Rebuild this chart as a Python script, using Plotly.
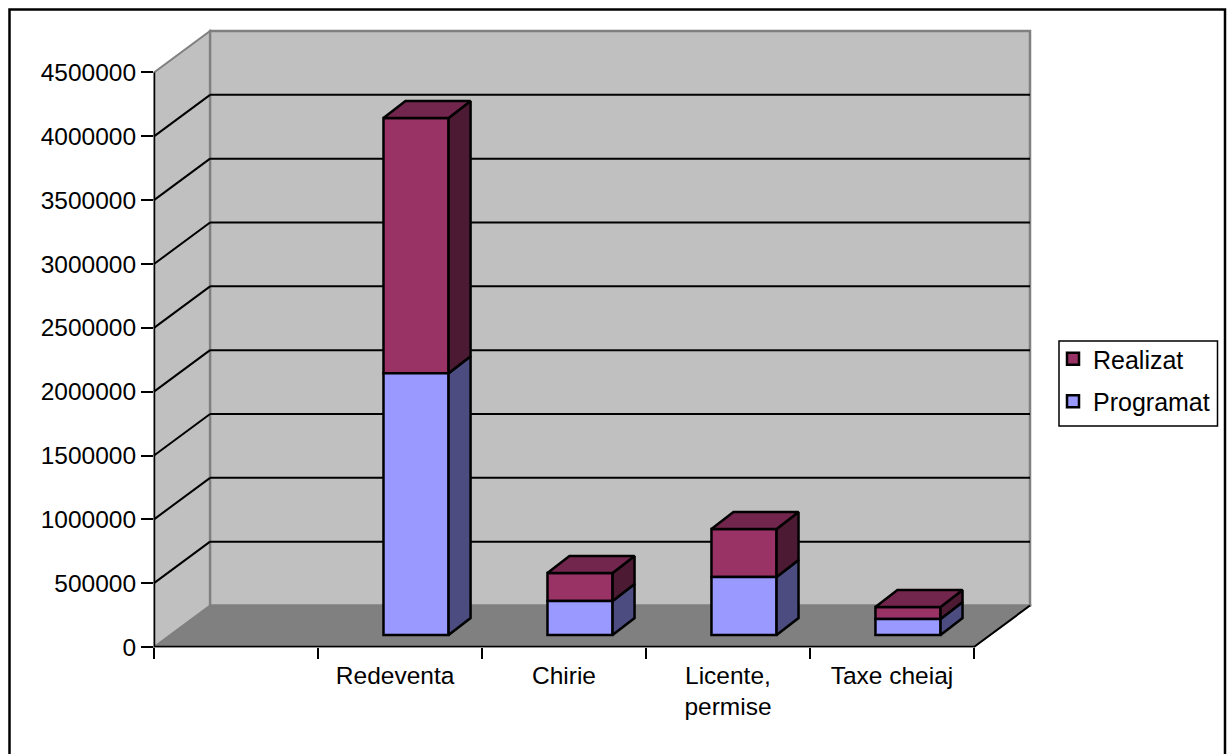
import plotly.graph_objects as go

categories = ["", "Redeventa", "Chirie", "Licente,<br>permise", "Taxe cheiaj"]
label_pos = [0, 0.97, 2, 3, 4]
programat = [None, 2050000, 266000, 454000, 125000]
realizat = [None, 2000000, 219000, 376000, 94000]
y_ticks = [0, 500000, 1000000, 1500000, 2000000, 2500000, 3000000, 3500000, 4000000, 4500000]

# 3-D look: offsets expressed in axis units
X0, X1 = -0.5, 4.5
WALL_DX, WALL_DY = 0.342, 325000
SHIFT_X, SHIFT_Y = 0.098, 94000
BAR_W = 0.397
BAR_DX, BAR_DY = 0.134, 133000
XMAX, YMAX = X1 + WALL_DX, 4500000 + WALL_DY

FONT = "Liberation Sans, Arial, sans-serif"
FS = 24.5
WALL = "#C0C0C0"
FLOOR = "#808080"
EDGE = "#808080"
OUT = 2.5

fig = go.Figure()


def fx(x):
    return (x - X0) / (XMAX - X0)


def fy(y):
    return y / YMAX


def paper_poly(points, fill, color, width):
    d = "M" + " L".join(f"{fx(x)},{fy(y)}" for x, y in points) + " Z"
    return dict(type="path", layer="below", xref="paper", yref="paper", path=d,
                fillcolor=fill, line=dict(color=color, width=width))


def paper_line(x0, y0, x1, y1, color, width):
    # paper-referenced lines are not clipped at the plot-area edge
    return dict(type="line", layer="below", xref="paper", yref="paper",
                x0=fx(x0), y0=fy(y0), x1=fx(x1), y1=fy(y1),
                line=dict(color=color, width=width))


shapes = []
# floor, side wall, back wall
shapes.append(paper_poly([(X0, 0), (X0 + WALL_DX, WALL_DY), (XMAX, WALL_DY), (X1, 0)],
                         FLOOR, "#6E6E6E", 1.5))
shapes.append(paper_poly([(X0, 0), (X0, 4500000), (X0 + WALL_DX, YMAX), (X0 + WALL_DX, WALL_DY)],
                         WALL, EDGE, 2))
shapes.append(paper_poly([(X0 + WALL_DX, WALL_DY), (X0 + WALL_DX, YMAX), (XMAX, YMAX), (XMAX, WALL_DY)],
                         WALL, EDGE, 2.5))
# grid lines on the walls
for v in y_ticks[1:-1]:
    shapes.append(paper_line(X0, v, X0 + WALL_DX, v + WALL_DY, "black", 2))
    shapes.append(paper_line(X0 + WALL_DX, v + WALL_DY, XMAX, v + WALL_DY, "black", 2))
shapes.append(paper_line(X1, 0, XMAX, WALL_DY, "black", 2))
# outer frame (its lower edge falls outside the picture) and legend box
W, H = 876.0, 616.0
def px(x):
    return (x - 154) / W
def py(y):
    return (647 - y) / H
shapes.append(dict(type="rect", layer="below", xref="paper", yref="paper",
                   x0=px(9.5), x1=px(1225), y0=py(9.5), y1=py(770),
                   line=dict(color="black", width=2.5), fillcolor="rgba(0,0,0,0)"))
shapes.append(dict(type="rect", layer="below", xref="paper", yref="paper",
                   x0=px(1059), x1=px(1217.5), y0=py(341), y1=py(426),
                   line=dict(color="black", width=1.5), fillcolor="white"))

xs = [i + SHIFT_X for i in range(len(categories))]
lows = [None if p is None else SHIFT_Y for p in programat]
mids = [None if p is None else SHIFT_Y + p for p in programat]
tops = [None if p is None else SHIFT_Y + p + r for p, r in zip(programat, realizat)]

# front faces (real stacked bars)
fig.add_trace(go.Bar(name="Realizat", x=xs, y=realizat, base=mids, width=BAR_W,
                     marker=dict(color="#993366", line=dict(color="black", width=OUT)),
                     legendgroup="r"))
fig.add_trace(go.Bar(name="Programat", x=xs, y=programat, base=lows, width=BAR_W,
                     marker=dict(color="#9999FF", line=dict(color="black", width=OUT)),
                     legendgroup="p"))


def poly_trace(polys, color):
    px_, py_ = [], []
    for poly in polys:
        for a, b in poly + [poly[0]]:
            px_.append(a)
            py_.append(b)
        px_.append(None)
        py_.append(None)
    fig.add_trace(go.Scatter(x=px_, y=py_, mode="lines", fill="toself", fillcolor=color,
                             line=dict(color="black", width=OUT), showlegend=False,
                             hoverinfo="skip"))


def side(x, lo, hi):
    r = x + BAR_W / 2
    return [(r, lo), (r + BAR_DX, lo + BAR_DY), (r + BAR_DX, hi + BAR_DY), (r, hi)]


def top(x, hi):
    l, r = x - BAR_W / 2, x + BAR_W / 2
    return [(l, hi), (l + BAR_DX, hi + BAR_DY), (r + BAR_DX, hi + BAR_DY), (r, hi)]


idx = [i for i, p in enumerate(programat) if p is not None]
poly_trace([side(xs[i], lows[i], mids[i]) for i in idx], "#4C4C80")
poly_trace([side(xs[i], mids[i], tops[i]) for i in idx], "#4C1A33")
poly_trace([top(xs[i], tops[i]) for i in idx], "#73264D")

# axis lines: unclipped so that they sit fully on the plot-area edge
fig.add_trace(go.Scatter(x=[X0, X0, X1], y=[y_ticks[-1], 0, 0], mode="lines", cliponaxis=False,
                         line=dict(color="black", width=2.5), showlegend=False, hoverinfo="skip"))

fig.update_layout(
    width=1227, height=754,
    margin=dict(l=154, r=197, t=31, b=107, autoexpand=False),
    paper_bgcolor="white", plot_bgcolor="rgba(0,0,0,0)",
    barmode="overlay",
    font=dict(family=FONT, size=FS, color="black"),
    shapes=shapes,
    showlegend=True,
    legend=dict(x=px(1053), y=py(336), xanchor="left", yanchor="top",
                bgcolor="rgba(0,0,0,0)", borderwidth=0,
                traceorder="grouped", tracegroupgap=7,
                font=dict(family=FONT, size=25)),
    xaxis=dict(range=[X0, XMAX], tickmode="array", tickvals=label_pos,
               ticktext=categories, ticks="", showgrid=False, zeroline=False, showline=False,
               ticklabelstandoff=11, tickfont=dict(family=FONT, size=FS),
               minor=dict(tickmode="array", tickvals=[X0 + i for i in range(len(categories) + 1)],
                          ticks="outside", ticklen=11, tickwidth=1.5, tickcolor="black",
                          showgrid=False)),
    yaxis=dict(range=[0, YMAX], tickmode="array", tickvals=y_ticks, ticktext=[str(v) for v in y_ticks],
               ticks="outside", ticklen=12, tickwidth=1.5, tickcolor="black",
               showgrid=False, zeroline=False, showline=False,
               tickfont=dict(family=FONT, size=FS)),
)

fig.write_html("out.html", config={"displayModeBar": False},
               post_script="document.body.style.margin='0';document.body.style.overflow='hidden';")
